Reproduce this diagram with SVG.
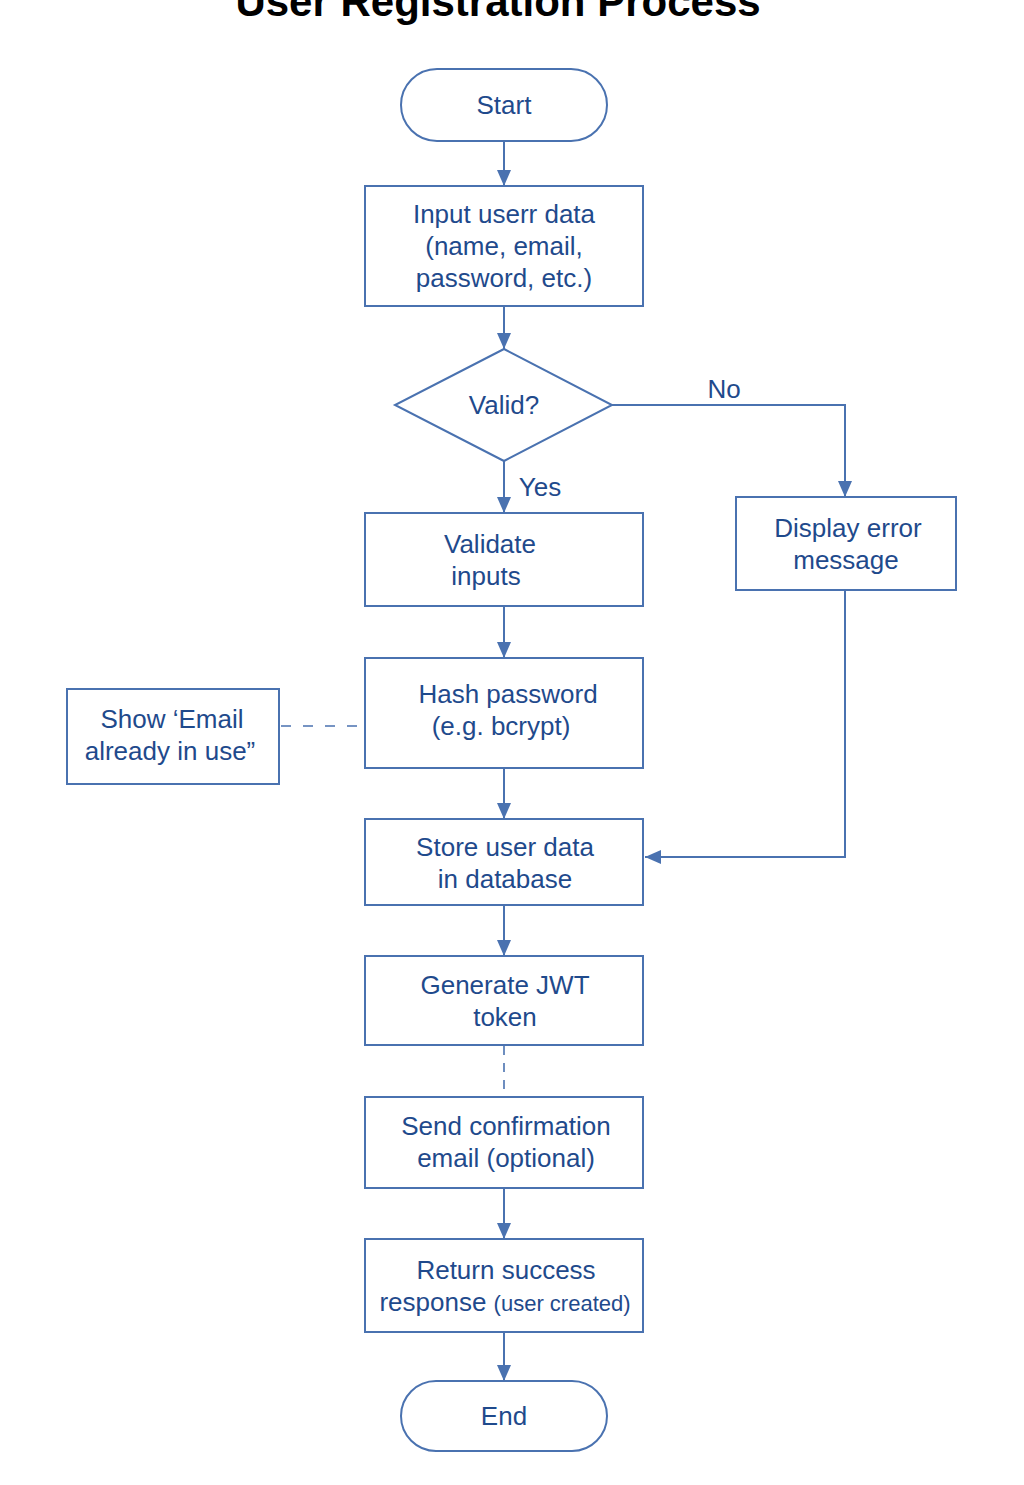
<svg xmlns="http://www.w3.org/2000/svg" width="1024" height="1485" viewBox="0 0 1024 1485">
<style>
.shape{fill:#ffffff;stroke:#4a72b0;stroke-width:2}
.t{font-family:"Liberation Sans",Arial,sans-serif;font-size:26px;fill:#1f4a8c;text-anchor:middle}
.s{font-size:22px}
.title{font-family:"Liberation Sans",Arial,sans-serif;font-size:42px;font-weight:bold;fill:#000;text-anchor:middle}
.c{fill:none;stroke:#4a72b0;stroke-width:2}
.d{fill:none;stroke:#4a72b0;stroke-width:1.6}
</style>
<defs>
<marker id="arr" markerUnits="userSpaceOnUse" markerWidth="16" markerHeight="14" refX="16" refY="7" orient="auto">
<path d="M0,0 L16,7 L0,14 z" fill="#4a72b0"/>
</marker>
</defs>
<rect width="1024" height="1485" fill="#ffffff"/>
<text class="title" x="498" y="16">User Registration Process</text>
<g id="connectors">
<line class="c" x1="504" y1="141" x2="504" y2="186" marker-end="url(#arr)"/>
<line class="c" x1="504" y1="306" x2="504" y2="349" marker-end="url(#arr)"/>
<line class="c" x1="504" y1="461" x2="504" y2="513" marker-end="url(#arr)"/>
<polyline class="c" points="612,405 845,405 845,497" marker-end="url(#arr)"/>
<line class="c" x1="504" y1="606" x2="504" y2="658" marker-end="url(#arr)"/>
<line class="c" x1="504" y1="768" x2="504" y2="819" marker-end="url(#arr)"/>
<polyline class="c" points="845,590 845,857 645,857" marker-end="url(#arr)"/>
<line class="c" x1="504" y1="905" x2="504" y2="956" marker-end="url(#arr)"/>
<line class="d" x1="504" y1="1046" x2="504" y2="1092" stroke-dasharray="9,8"/>
<line class="d" x1="281" y1="726" x2="357" y2="726" stroke-dasharray="10,12"/>
<line class="c" x1="504" y1="1188" x2="504" y2="1239" marker-end="url(#arr)"/>
<line class="c" x1="504" y1="1332" x2="504" y2="1381" marker-end="url(#arr)"/>
<text class="t" x="724" y="398">No</text>
<text class="t" x="540" y="496">Yes</text>
</g>
<g id="start">
<rect class="shape" x="401" y="69" width="206" height="72" rx="36" ry="36"/>
<text class="t" x="504" y="114">Start</text>
</g>
<g id="input">
<rect class="shape" x="365" y="186" width="278" height="120"/>
<text class="t" x="504" y="223">Input userr data</text>
<text class="t" x="504" y="255">(name, email,</text>
<text class="t" x="504" y="287">password, etc.)</text>
</g>
<g id="valid">
<polygon class="shape" points="504,349 612,405 504,461 395,405"/>
<text class="t" x="504" y="414">Valid?</text>
</g>
<g id="validate">
<rect class="shape" x="365" y="513" width="278" height="93"/>
<text class="t" x="490" y="553">Validate</text>
<text class="t" x="486" y="585">inputs</text>
</g>
<g id="error">
<rect class="shape" x="736" y="497" width="220" height="93"/>
<text class="t" x="848" y="537">Display error</text>
<text class="t" x="846" y="569">message</text>
</g>
<g id="hash">
<rect class="shape" x="365" y="658" width="278" height="110"/>
<text class="t" x="508" y="703">Hash password</text>
<text class="t" x="501" y="735">(e.g. bcrypt)</text>
</g>
<g id="emailinuse">
<rect class="shape" x="67" y="689" width="212" height="95"/>
<text class="t" x="172" y="728">Show ‘Email</text>
<text class="t" x="170" y="760">already in use”</text>
</g>
<g id="store">
<rect class="shape" x="365" y="819" width="278" height="86"/>
<text class="t" x="505" y="856">Store user data</text>
<text class="t" x="505" y="888">in database</text>
</g>
<g id="jwt">
<rect class="shape" x="365" y="956" width="278" height="89"/>
<text class="t" x="505" y="994">Generate JWT</text>
<text class="t" x="505" y="1026">token</text>
</g>
<g id="send">
<rect class="shape" x="365" y="1097" width="278" height="91"/>
<text class="t" x="506" y="1135">Send confirmation</text>
<text class="t" x="506" y="1167">email (optional)</text>
</g>
<g id="return">
<rect class="shape" x="365" y="1239" width="278" height="93"/>
<text class="t" x="506" y="1279">Return success</text>
<text class="t" x="505" y="1311">response <tspan class="s">(user created)</tspan></text>
</g>
<g id="end">
<rect class="shape" x="401" y="1381" width="206" height="70" rx="35" ry="35"/>
<text class="t" x="504" y="1425">End</text>
</g>
</svg>
